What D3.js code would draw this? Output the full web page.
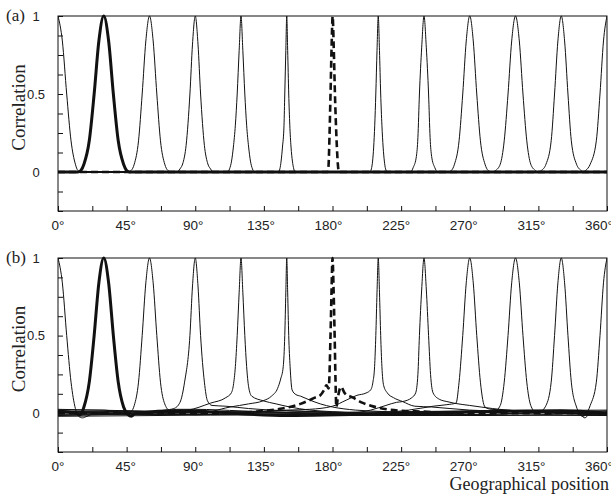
<!DOCTYPE html>
<html><head><meta charset="utf-8">
<script src="https://cdn.jsdelivr.net/npm/d3@7"></script>
<style>body{margin:0;background:#fff}svg{display:block}</style>
</head><body>
<svg id="chart" width="611" height="500"></svg>
<script>
// ---- data (degrees, correlation) ----
const xTicks = [0,45,90,135,180,225,270,315,360];
const yTickLabels = [[0,"0"],[0.5,"0.5"],[1,"1"]];
const peakPositions = [0,30,60,90,120,150,180,210,240,270,300,330,360];
const thickPeak = 30;
const dashedPeak = 180;

// panel (a)
const a0 = [[0,1],[2.85,0.84],[5.7,0.5],[8.55,0.2],[11.4,0.05],[13,0.01],[15,0],[360,0]];
const a30 = [[0,0],[13,0],[15,0.01],[17,0.05],[20.5,0.2],[23.7,0.5],[26.8,0.84],[30,1],[33.2,0.84],[36.3,0.5],[39.5,0.2],[43,0.05],[45,0.01],[47,0],[360,0]];
const a60 = [[0,0],[46,0],[48,0.01],[50,0.05],[52.8,0.2],[55.2,0.5],[57.6,0.84],[60,1],[62.4,0.84],[64.8,0.5],[67.2,0.2],[70,0.05],[72,0.01],[74,0],[360,0]];
const a90 = [[0,0],[78,0],[80,0.02],[82,0.06],[84,0.17],[86.5,0.5],[88.2,0.82],[90,1],[91.8,0.82],[93.5,0.5],[96,0.17],[98,0.06],[100,0.02],[102,0],[360,0]];
const a120 = [[0,0],[111,0],[112.5,0.02],[113.8,0.07],[115,0.16],[116.3,0.3],[117.5,0.5],[118.8,0.78],[120,1],[121.2,0.78],[122.5,0.5],[123.7,0.3],[125,0.16],[126.2,0.07],[127.5,0.02],[129,0],[360,0]];
const a150 = [[0,0],[144.5,0],[145.5,0.02],[146.3,0.07],[147.2,0.16],[148.2,0.3],[148.7,0.5],[149.4,0.78],[150,1],[150.6,0.78],[151.3,0.5],[152,0.3],[152.8,0.16],[153.7,0.07],[154.6,0.02],[155.5,0],[360,0]];
const a180 = [[0,0],[176.8,0],[177.4,0.04],[178,0.22],[178.7,0.5],[179.4,0.8],[180.1,1],[180.8,0.8],[181.6,0.5],[182.6,0.22],[183.6,0.04],[184.2,0],[360,0]];
const a210 = [[0,0],[204.5,0],[205.5,0.02],[206.3,0.07],[207,0.16],[207.7,0.3],[208.4,0.5],[209.2,0.78],[210,1],[210.8,0.78],[211.6,0.5],[212.4,0.3],[213.2,0.16],[214,0.07],[214.8,0.02],[216,0],[360,0]];
const a240 = [[0,0],[231,0],[233,0.03],[235,0.1],[236,0.22],[237,0.5],[238.5,0.8],[240,1],[241.5,0.8],[243,0.5],[244,0.22],[245,0.1],[247,0.03],[249,0],[360,0]];
const a270 = [[0,0],[256,0],[258,0.01],[260,0.05],[263,0.2],[265.4,0.5],[267.7,0.84],[270,1],[272.3,0.84],[274.6,0.5],[277,0.2],[280,0.05],[282,0.01],[284,0],[360,0]];
const a300 = [[0,0],[285,0],[287,0.01],[290,0.05],[292.6,0.2],[295.1,0.5],[297.5,0.84],[300,1],[302.5,0.84],[304.9,0.5],[307.4,0.2],[310,0.05],[313,0.01],[315,0],[360,0]];
const a330 = [[0,0],[315,0],[317,0.01],[320,0.05],[323.4,0.2],[325.6,0.5],[327.8,0.84],[330,1],[332.2,0.84],[334.4,0.5],[336.6,0.2],[340,0.05],[343,0.01],[345,0],[360,0]];
const a360 = [[0,0],[344,0],[346,0.01],[349,0.05],[353,0.2],[355.4,0.5],[357.7,0.84],[360,1]];

// panel (b)
const b0 = [[0,1],[2.85,0.84],[5.7,0.5],[8.55,0.2],[11.4,0.03],[13.5,-0.02],[16,-0.03],[19,-0.02],[24,0],[45,0.015],[90,-0.01],[150,0.015],[220,-0.015],[300,0.015],[360,0.02]];
const b30 = [[0,0.015],[12,0],[14.5,-0.01],[17,0.04],[20.5,0.2],[23.7,0.5],[26.8,0.84],[30,1],[33.2,0.84],[36.3,0.5],[39.5,0.2],[43,0.04],[46,-0.01],[48,-0.02],[51,0],[80,0.015],[150,-0.015],[250,0.005],[330,0.015],[360,0]];
const b60 = [[0,0.02],[30,0.02],[46,0],[48,0.01],[50,0.05],[52.8,0.2],[55.2,0.5],[57.6,0.84],[60,1],[62.4,0.84],[64.8,0.5],[67.2,0.2],[70,0.06],[73,0.02],[78,0.025],[90,0.025],[120,0.015],[200,-0.01],[280,-0.015],[360,0.005]];
const b90 = [[0,-0.015],[50,0],[70,0.02],[76,0.03],[80,0.07],[83,0.2],[86.5,0.5],[88.2,0.82],[90,1],[91.8,0.82],[93.5,0.5],[96,0.2],[98,0.08],[101,0.05],[110,0.045],[125,0.03],[140,0.02],[170,0.01],[250,-0.01],[360,-0.015]];
const b120 = [[0,-0.005],[60,0.005],[85,0.02],[100,0.065],[110,0.1],[113.6,0.13],[115,0.18],[116.3,0.3],[117.5,0.5],[118.8,0.78],[120,1],[121.2,0.78],[122.5,0.5],[123.7,0.3],[125,0.17],[127,0.11],[134.5,0.08],[143,0.06],[152,0.04],[165,0.02],[180,0.01],[220,-0.005],[300,0.01],[360,-0.005]];
const b150 = [[0,0.005],[90,-0.005],[113,0.04],[125,0.06],[134.5,0.08],[140,0.11],[144,0.16],[146,0.22],[147.7,0.3],[148.7,0.5],[149.4,0.78],[150,1],[150.6,0.78],[151.3,0.5],[152.2,0.3],[153.5,0.15],[156,0.12],[159,0.11],[165,0.085],[172,0.06],[180,0.04],[195,0.02],[215,0.01],[250,-0.01],[360,0.015]];
const b180 = [[0,0],[110,0],[130,0.01],[140,0.02],[147,0.03],[152,0.04],[159,0.06],[164,0.08],[168.5,0.1],[172,0.115],[174.5,0.15],[176,0.18],[177.5,0.16],[178.7,0.5],[179.4,0.8],[180,1],[180.7,0.8],[181.4,0.5],[182,0.2],[182.5,0.04],[183.5,0.1],[185.5,0.17],[188,0.13],[193.5,0.1],[199,0.07],[204.6,0.05],[215.7,0.025],[226,0.015],[240,0.01],[260,0],[360,0]];
const b210 = [[0,0.01],[120,0.01],[150,0.02],[165,0.025],[180,0.045],[189,0.084],[196,0.115],[202,0.13],[205,0.15],[206.5,0.2],[207.6,0.3],[208.4,0.5],[209.2,0.78],[210,1],[210.8,0.78],[211.6,0.5],[212.4,0.3],[213.5,0.18],[216,0.13],[220,0.1],[226,0.075],[234,0.045],[245,0.04],[257,0.03],[270,0.02],[300,0.01],[360,-0.01]];
const b240 = [[0,-0.01],[190,0],[205,0.02],[215,0.05],[222,0.07],[226,0.075],[232,0.1],[234.5,0.13],[236,0.25],[237,0.5],[238.5,0.8],[240,1],[241.5,0.8],[243,0.5],[244.3,0.25],[246,0.13],[250,0.09],[255,0.075],[260,0.064],[270,0.05],[285,0.03],[300,0.015],[330,0],[360,-0.015]];
const b270 = [[0,0.01],[200,0],[230,0.02],[246,0.045],[255,0.055],[261,0.065],[263,0.2],[265.4,0.5],[267.7,0.84],[270,1],[272.3,0.84],[274.6,0.5],[277,0.2],[280,0.04],[284,0.025],[295,0.02],[310,0.01],[340,-0.005],[360,0.01]];
const b300 = [[0,-0.02],[200,0],[260,0.01],[280,0.015],[286,0.01],[290,0.05],[292.6,0.2],[295.1,0.5],[297.5,0.84],[300,1],[302.5,0.84],[304.9,0.5],[307.4,0.2],[310,0.05],[313,0.01],[318,0.015],[340,0.01],[360,0.005]];
const b330 = [[0,0.01],[100,-0.01],[250,-0.015],[300,0],[316,0.01],[320,0.05],[323.4,0.2],[325.6,0.5],[327.8,0.84],[330,1],[332.2,0.84],[334.4,0.5],[336.6,0.2],[340,0.04],[343,-0.01],[345.5,-0.03],[348,-0.01],[352,0],[360,0]];
const b360 = [[0,0.025],[50,0.015],[150,0.005],[300,0.015],[340,0],[344,-0.02],[346,-0.01],[349,0.05],[353,0.2],[355.4,0.5],[357.7,0.84],[360,1]];

const curvesA = [a0,a30,a60,a90,a120,a150,a180,a210,a240,a270,a300,a330,a360];
const curvesB = [b0,b30,b60,b90,b120,b150,b180,b210,b240,b270,b300,b330,b360];

// ---- drawing ----
const svg = d3.select("#chart");
const left = 58, right = 607;
const x = d3.scaleLinear().domain([0,360]).range([left,right]);
// tick labels in the original sit on a slightly shorter scale than the ticks
const xLabel = d3.scaleLinear().domain([0,360]).range([left,right-8]);

function panel(curves, top, bottom, tag, showXTitle){
  const y = d3.scaleLinear().domain([-0.25,1]).range([bottom,top]);
  const g = svg.append("g");
  const clipId = "clip"+tag;
  svg.append("clipPath").attr("id",clipId).append("rect")
    .attr("x",left).attr("y",top-3).attr("width",right-left).attr("height",bottom-top+3);
  const line = d3.line().x(d=>x(d[0])).y(d=>y(d[1])).curve(d3.curveMonotoneX);
  const cg = g.append("g").attr("clip-path",`url(#${clipId})`);
  curves.forEach((c,i)=>{
    const p = peakPositions[i];
    const isThick = p===thickPeak, isDash = p===dashedPeak;
    cg.append("path").datum(c).attr("d",line).attr("fill","none")
      .attr("stroke","#111")
      .attr("stroke-width", isThick?3:(isDash?2.6:1))
      .attr("stroke-dasharray", isDash?"7,4":null)
      .attr("stroke-linejoin","round");
  });
  // frame
  g.append("rect").attr("x",left).attr("y",top).attr("width",right-left).attr("height",bottom-top)
    .attr("fill","none").attr("stroke","#111").attr("stroke-width",1);
  // x axis ticks inward
  const xAx = d3.axisBottom(x).tickValues(d3.range(0,361,22.5)).tickSize(-5).tickFormat("");
  g.append("g").attr("transform",`translate(0,${bottom})`).call(xAx)
    .call(s=>s.select(".domain").remove())
    .call(s=>s.selectAll("line").attr("stroke","#111"));
  g.selectAll(".xl").data(xTicks).enter().append("text")
    .attr("x",d=>xLabel(d)).attr("y",bottom+19).attr("text-anchor","middle")
    .attr("font-family","Liberation Sans, Arial, sans-serif").attr("font-size",13.5).attr("fill","#222")
    .text(d=>d+"°");
  // y axis ticks inward
  const yAx = d3.axisLeft(y).tickValues(d3.range(-0.25,1.001,0.125)).tickSize(-5).tickFormat("");
  g.append("g").attr("transform",`translate(${left},0)`).call(yAx)
    .call(s=>s.select(".domain").remove())
    .call(s=>s.selectAll("line").attr("stroke","#111"));
  g.selectAll(".yl").data(yTickLabels).enter().append("text")
    .attr("x",36).attr("y",d=>y(d[0])+4.5).attr("text-anchor","middle")
    .attr("font-family","Liberation Sans, Arial, sans-serif").attr("font-size",13).attr("fill","#222")
    .text(d=>d[1]);
  g.append("text").attr("x",6).attr("y",top+5)
    .attr("font-family","Liberation Serif, Times New Roman, serif").attr("font-size",17).attr("fill","#222")
    .text(`(${tag})`);
  g.append("text").attr("transform",`translate(25,${(top+bottom)/2-6}) rotate(-90)`)
    .attr("text-anchor","middle")
    .attr("font-family","Liberation Serif, Times New Roman, serif").attr("font-size",19).attr("fill","#222")
    .text("Correlation");
  if(showXTitle){
    g.append("text").attr("x",609).attr("y",bottom+38).attr("text-anchor","end")
      .attr("font-family","Liberation Serif, Times New Roman, serif").attr("font-size",18).attr("fill","#222")
      .text("Geographical position");
  }
}
panel(curvesA, 16, 211, "a", false);
panel(curvesB, 258, 452, "b", true);
</script>
</body></html>
